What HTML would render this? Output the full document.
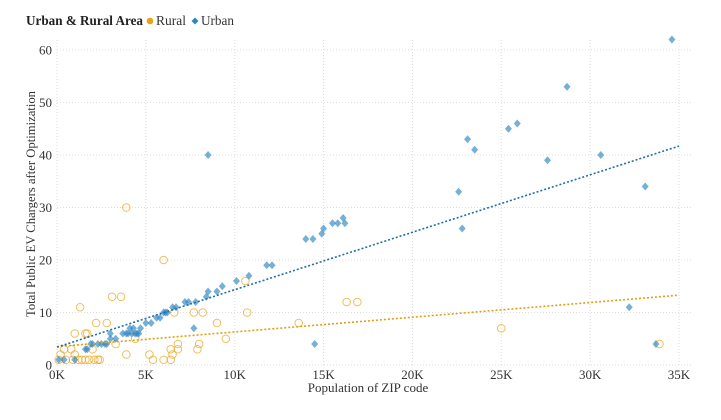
<!DOCTYPE html>
<html><head><meta charset="utf-8"><style>
body{margin:0;background:#fff;font-family:"Liberation Serif",serif}
svg text{font-family:"Liberation Serif",serif}
</style></head><body>
<svg id="chart" width="721" height="415">
<g id="legend">
<text x="26" y="25" font-size="14" font-weight="bold" fill="#222" textLength="117" lengthAdjust="spacingAndGlyphs">Urban &amp; Rural Area</text>
<circle cx="150" cy="21" r="3.3" fill="#e8a317"/>
<text x="156" y="25" font-size="14" fill="#333" textLength="30" lengthAdjust="spacingAndGlyphs">Rural</text>
<path d="M195,17.5 L198.5,21 L195,24.5 L191.5,21Z" fill="#2e86c1"/>
<text x="201" y="25" font-size="14" fill="#333" textLength="33" lengthAdjust="spacingAndGlyphs">Urban</text>
</g>
<g id="grid"></g><g id="axes"></g><g id="marks"></g>
<text transform="translate(35,204) rotate(-90)" text-anchor="middle" font-size="13" fill="#333" textLength="226" lengthAdjust="spacingAndGlyphs">Total Public EV Chargers after Optimization</text>
<text x="368" y="392" text-anchor="middle" font-size="13" fill="#333">Population of ZIP code</text>
</svg>
<script>
const xTicks=[0,5,10,15,20,25,30,35];
const yTicks=[0,10,20,30,40,50,60];
const ruralX=[3.9,6.0,3.1,3.6,1.3,1.0,1.6,1.7,2.2,2.8,3.3,4.4,3.9,5.2,5.4,6.0,6.4,6.4,6.5,6.8,6.8,6.6,7.7,8.2,7.9,8.0,9.0,9.5,10.6,10.7,13.6,16.3,16.9,25.0,33.9,0.2,0.4,0.8,0.1,0.5,0.9,1.2,1.4,1.6,1.8,2.1,2.3,2.4,1.0,2.0];
const ruralY=[30,20,13,13,11,6,6,6,8,8,4,5,2,2,1,1,1,3,2,4,3,10,10,10,3,4,8,5,16,10,8,12,12,7,4,2,3,3,1,1,1,1,1,1,1,1,1,1,2,3];
const urbanX=[0.1,0.4,1.0,1.6,1.7,1.9,2.0,2.3,2.5,2.7,2.8,3.0,3.0,3.3,3.7,3.9,4.0,4.1,4.2,4.4,4.5,4.6,4.3,4.7,5.0,5.3,5.6,5.8,6.0,6.1,6.2,6.5,6.7,7.2,7.4,7.8,7.7,8.4,8.5,9.0,9.3,10.1,10.8,11.8,12.1,8.5,14.0,14.4,14.9,15.0,15.5,15.8,16.1,16.2,14.5,22.6,22.8,23.1,23.5,25.4,25.9,27.6,28.7,30.6,33.1,32.2,33.7,34.6];
const urbanY=[1,1,1,3,3,4,4,4,4,4,4,6,5,5,6,6,6,7,6,6,6,6,7,7,8,8,9,9,10,10,10,11,11,12,12,12,7,13,14,14,15,16,17,19,19,40,24,24,25,26,27,27,28,27,4,33,26,43,41,45,46,39,53,40,34,11,4,62];
const ruralTrend=[3.5,13.3];
const urbanTrend=[3.4,41.7];
const X0=57,X1=679,Y0=365,Y1=50;
const sx=v=>X0+(v/35)*(X1-X0), sy=v=>Y0-(v/60)*(Y0-Y1);
const NS="http://www.w3.org/2000/svg";
function mk(t,a,p){const e=document.createElementNS(NS,t);for(const k in a)e.setAttribute(k,a[k]);p.appendChild(e);return e;}
const grid=document.getElementById('grid'),axes=document.getElementById('axes'),marks=document.getElementById('marks');
xTicks.forEach(t=>{
 const l=mk('line',{x1:sx(t),x2:sx(t),y1:Y1-10,y2:Y0,stroke:'#ddd','stroke-dasharray':'1,2'},grid);
 
 
 const tx=mk('text',{x:sx(t),y:Y0+14,'text-anchor':'middle','font-size':'13',fill:'#333'},axes);
 tx.textContent=t+'K';
 
 
});
yTicks.forEach(t=>{
 const l=mk('line',{x1:X0,x2:X1+12,y1:sy(t),y2:sy(t),stroke:'#ddd','stroke-dasharray':'1,2'},grid);
 
 
 const tx=mk('text',{x:X0-5,y:sy(t)+4.5,'text-anchor':'end','font-size':'13',fill:'#333'},axes);
 tx.textContent=t;
 
 
});
ruralX.forEach((x,i)=>{
 const c=mk('circle',{cx:sx(x),cy:sy(ruralY[i]),r:3.8,fill:'none',stroke:'#e8a317','stroke-opacity':0.7,'stroke-width':1},marks);
 
 
});
urbanX.forEach((x,i)=>{
 const cx=sx(x),cy=sy(urbanY[i]);
 const p=mk('path',{d:`M${cx},${cy-4} L${cx+3.5},${cy} L${cx},${cy+4} L${cx-3.5},${cy}Z`,fill:'#2e86c1','fill-opacity':0.65},marks);
 
 
});
[[ruralTrend,'#e0a010','rural-trend-line'],[urbanTrend,'#1f6fa8','urban-trend-line']].forEach(([tr,col,nm])=>{
 const l=mk('line',{x1:sx(0),y1:sy(tr[0]),x2:sx(35),y2:sy(tr[1]),stroke:col,'stroke-width':1.6,'stroke-dasharray':'2,2'},marks);
 
 
});
</script>
</body></html>
